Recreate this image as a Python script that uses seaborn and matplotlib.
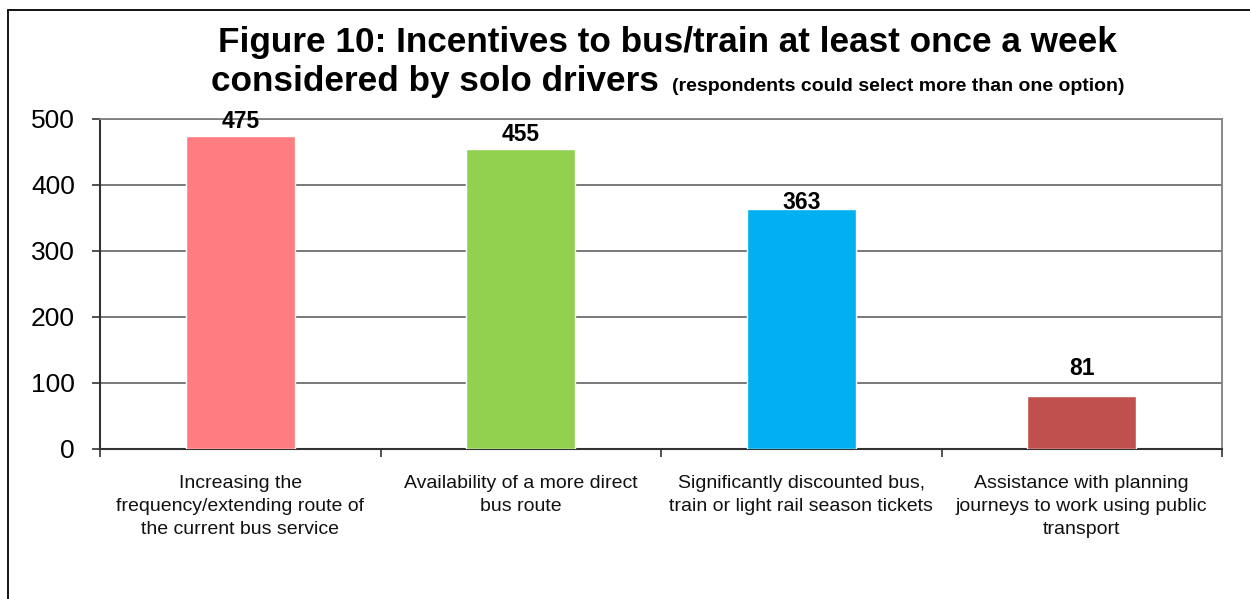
import matplotlib
matplotlib.use("Agg")
import matplotlib.pyplot as plt
import seaborn as sns
import pandas as pd
from matplotlib.lines import Line2D

# data
categories = [
    "Increasing the\nfrequency/extending route of\nthe current bus service",
    "Availability of a more direct\nbus route",
    "Significantly discounted bus,\ntrain or light rail season tickets",
    "Assistance with planning\njourneys to work using public\ntransport",
]
counts = [475, 455, 363, 81]
bar_colors = ["#FF7C80", "#92D050", "#00B0F0", "#C0504D"]
y_ticks = [0, 100, 200, 300, 400, 500]
label_pads = [2, 2, -3, 11]  # excel puts its data labels a bit unevenly

sns.set_style("white")
plt.rcParams["font.family"] = ["Liberation Sans", "DejaVu Sans"]
plt.rcParams["text.color"] = "black"
plt.rcParams["xtick.color"] = "black"
plt.rcParams["ytick.color"] = "black"

df = pd.DataFrame({"cat": categories, "n": counts})

fig = plt.figure(figsize=(12.5, 5.99), dpi=100)
ax = fig.add_axes([100 / 1250, 150 / 599, 1122 / 1250, 330 / 599])

sns.barplot(data=df, x="cat", y="n", hue="cat", palette=bar_colors,
            legend=False, width=0.39, edgecolor="white", linewidth=1,
            saturation=1, ax=ax, zorder=3)

ax.set_xlim(-0.5, 3.5)
ax.set_ylim(0, 500)
ax.set_yticks(y_ticks)
ax.set_yticklabels([str(v) for v in y_ticks], fontsize=19)
ax.yaxis.grid(True, color="#6e6e6e", linewidth=1.3, zorder=0)
ax.set_axisbelow(True)
ax.tick_params(axis="y", direction="out", length=6, width=1.2, color="#333333",
               pad=12, left=True)

# category labels at centres, tick marks at boundaries
ax.set_xticks(range(len(categories)))
ax.set_xticklabels(categories, fontsize=14, color="#111111", linespacing=1.45)
ax.tick_params(axis="x", which="major", length=0, pad=19)
ax.set_xticks([-0.5, 0.5, 1.5, 2.5, 3.5], minor=True)
ax.tick_params(axis="x", which="minor", direction="out", length=6, width=1.2,
               color="#333333", bottom=True)
ax.set_xlabel("")
ax.set_ylabel("")

for side in ["top", "right"]:
    ax.spines[side].set_visible(True)
    ax.spines[side].set_color("#808080")
    ax.spines[side].set_linewidth(1.3)
for side in ["left", "bottom"]:
    ax.spines[side].set_color("#333333")
    ax.spines[side].set_linewidth(1.5)

for cont, pad in zip(ax.containers, label_pads):
    ax.bar_label(cont, fontsize=16.5, fontweight="bold", padding=pad)

# title
fig.text(667 / 1250, 1 - 52 / 599, "Figure 10: Incentives to bus/train at least once a week",
         ha="center", va="baseline", fontsize=25.3, fontweight="bold")
t_big = fig.text(0, 1 - 91 / 599, "considered by solo drivers",
                 ha="left", va="baseline", fontsize=25.3, fontweight="bold")
t_small = fig.text(0, 1 - 91 / 599, "(respondents could select more than one option)",
                   ha="left", va="baseline", fontsize=14, fontweight="bold")
fig.canvas.draw()
r = fig.canvas.get_renderer()
w_big = t_big.get_window_extent(r).width
w_small = t_small.get_window_extent(r).width
gap = 13
x0 = 668 - (w_big + gap + w_small) / 2
t_big.set_x(x0 / 1250)
t_small.set_x((x0 + w_big + gap) / 1250)

# outer chart frame (cropped on right and bottom)
fig.add_artist(Line2D([7.5 / 1250, 7.5 / 1250], [0, 1 - 9.5 / 599],
                      transform=fig.transFigure, color="black", linewidth=1.3))
fig.add_artist(Line2D([7.5 / 1250, 1], [1 - 9.5 / 599, 1 - 9.5 / 599],
                      transform=fig.transFigure, color="black", linewidth=1.3))

fig.savefig("out.png", dpi=100)
